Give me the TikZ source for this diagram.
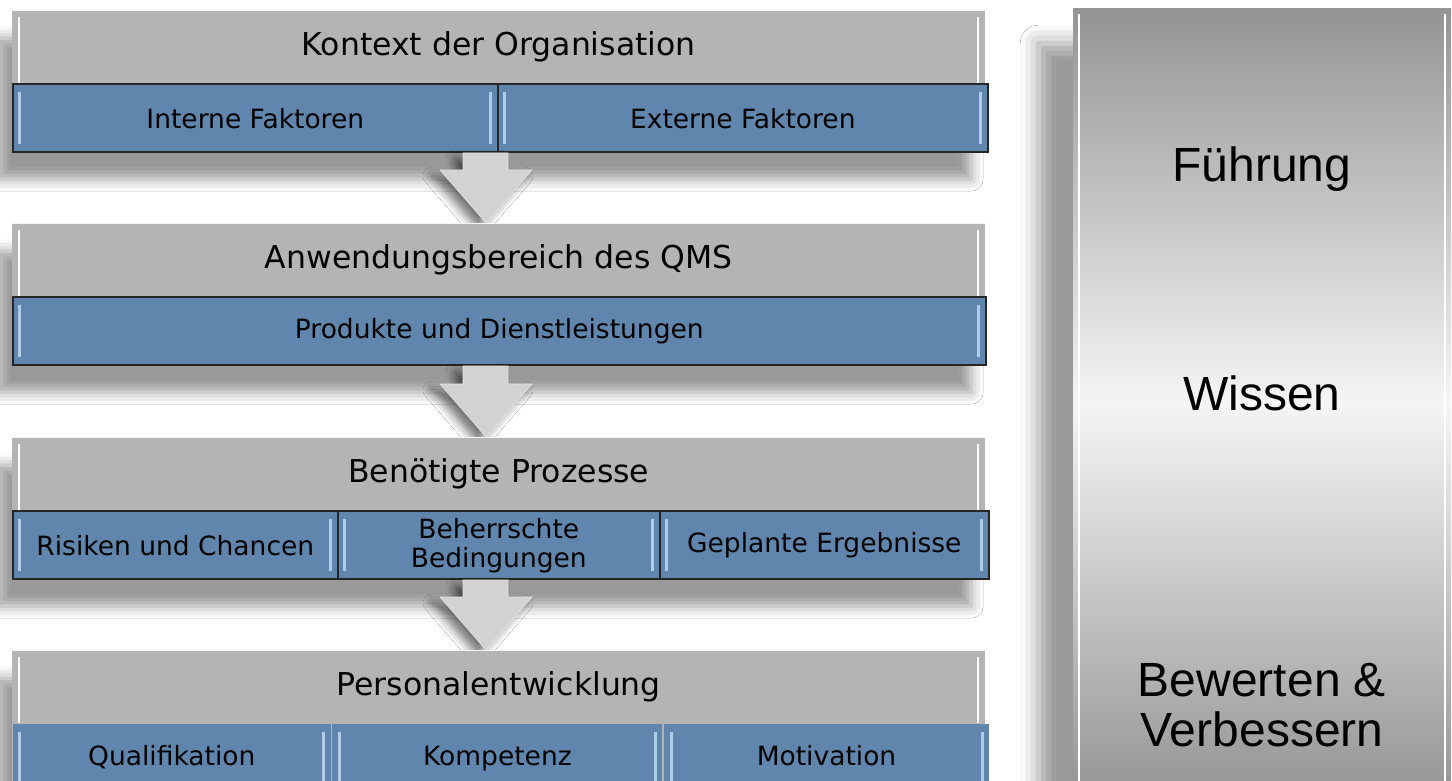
\documentclass[tikz,border=0pt]{standalone}
\usepackage{fontspec}
\setmainfont{DejaVu Sans}
\newfontfamily\sidefont{Liberation Sans}
\usetikzlibrary{positioning,calc,shadows.blur}
\definecolor{bargray}{RGB}{180,180,180}
\definecolor{rowblue}{RGB}{96,134,173}
\definecolor{bevelblue}{RGB}{176,205,232}
\definecolor{arrowgray}{RGB}{210,210,210}
\tikzset{
  grouppanel/.style={fill=bargray,minimum width=973pt,minimum height=141pt,anchor=north west,inner sep=0pt,
    blur shadow={shadow xshift=-14pt,shadow yshift=-28pt,shadow blur radius=12pt,shadow opacity=40}},
  titlebar/.style={fill=bargray,minimum width=973pt,minimum height=73pt,anchor=north west,inner sep=0pt,
    font=\fontsize{31.5}{36}\selectfont,
    path picture={\draw[white,line width=2.5pt]
      ([xshift=7pt,yshift=-7pt]path picture bounding box.north west) -- ([xshift=7pt]path picture bounding box.south west)
      ([xshift=-7pt,yshift=-7pt]path picture bounding box.north east) -- ([xshift=-7pt]path picture bounding box.south east);
      \draw[white!85!bargray,line width=2pt] (path picture bounding box.north west) -- (path picture bounding box.north east);}},
  factor/.style={fill=rowblue,draw=black!85,line width=1.6pt,minimum height=68pt,inner sep=0pt,align=center,
    font=\fontsize{26.5}{29}\selectfont,
    path picture={\draw[bevelblue,line width=3pt]
      ([xshift=7pt,yshift=-8pt]path picture bounding box.north west) -- ([xshift=7pt,yshift=8pt]path picture bounding box.south west)
      ([xshift=-7pt,yshift=-8pt]path picture bounding box.north east) -- ([xshift=-7pt,yshift=8pt]path picture bounding box.south east);}},
  lastrow/.style={factor,draw=none,text height=20pt,text depth=6pt},
  blockarrow/.style={fill=arrowgray,draw=white!90!black,line width=0.6pt,
    blur shadow={shadow xshift=-8pt,shadow yshift=-6pt,shadow blur radius=9pt,shadow opacity=55}},
  sidepanel/.style={minimum width=378pt,minimum height=790pt,anchor=north west,inner sep=0pt,
    top color=black!42,bottom color=black!42,middle color=black!4,
    blur shadow={shadow xshift=-35pt,shadow yshift=-35pt,shadow blur radius=18pt,shadow opacity=40},
    path picture={\draw[white,line width=2.5pt]
      ([xshift=6pt,yshift=-6pt]path picture bounding box.north west) -- ([xshift=6pt]path picture bounding box.south west)
      ([xshift=-6pt,yshift=-6pt]path picture bounding box.north east) -- ([xshift=-6pt]path picture bounding box.south east);}},
  sidetext/.style={font=\sidefont\fontsize{48}{50}\selectfont,align=center,inner sep=0pt}
}
\begin{document}
\begin{tikzpicture}[x=1pt,y=1pt]
\useasboundingbox (0,0) rectangle (1452,-781);
\fill[white] (0,0) rectangle (1452,-781);
% right column
\node[sidepanel] (side) at (1073,-8) {};
\node[sidetext,anchor=base] (lead) at (1262,-182) {Führung};
\node[sidetext,anchor=base] (know) at (1262,-410) {Wissen};
\node[sidetext] (improve) at (1262,-705) {Bewerten \&\\Verbessern};
% group 1
\coordinate (top1) at (12,-10);
\node[grouppanel] (g1) at (top1) {};
\node[titlebar] (t1) at (g1.north west) {Kontext der Organisation};
\node[factor,minimum width=485pt,anchor=north west] (f11) at (t1.south west) {Interne Faktoren};
\node[factor,minimum width=490pt,right=-1.6pt of f11] (f12) {Externe Faktoren};
\coordinate (top2) at (12,-223);
\path let \p1=(f11.south), \p2=(top2) in
  [blockarrow] (463,\y1) -- (508,\y1) -- (508,\y2+53pt) -- (532,\y2+53pt) -- (486,\y2)
  -- (440,\y2+53pt) -- (463,\y2+53pt) -- cycle;
% group 2
\node[grouppanel] (g2) at (top2) {};
\node[titlebar] (t2) at (g2.north west) {Anwendungsbereich des QMS};
\node[factor,minimum width=973pt,anchor=north west] (f21) at (t2.south west) {Produkte und Dienstleistungen};
\coordinate (top3) at (12,-437);
\path let \p1=(f21.south), \p2=(top3) in
  [blockarrow] (463,\y1) -- (508,\y1) -- (508,\y2+53pt) -- (532,\y2+53pt) -- (486,\y2)
  -- (440,\y2+53pt) -- (463,\y2+53pt) -- cycle;
% group 3
\node[grouppanel] (g3) at (top3) {};
\node[titlebar] (t3) at (g3.north west) {Benötigte Prozesse};
\node[factor,minimum width=325pt,anchor=north west] (f31) at (t3.south west) {Risiken und Chancen};
\node[factor,minimum width=322pt,right=-1.6pt of f31] (f32) {Beherrschte\\Bedingungen};
\node[factor,minimum width=329pt,right=-1.6pt of f32] (f33) {Geplante Ergebnisse};
\coordinate (top4) at (12,-650);
\path let \p1=(f31.south), \p2=(top4) in
  [blockarrow] (463,\y1) -- (508,\y1) -- (508,\y2+53pt) -- (532,\y2+53pt) -- (486,\y2)
  -- (440,\y2+53pt) -- (463,\y2+53pt) -- cycle;
% group 4
\node[grouppanel] (g4) at (top4) {};
\node[titlebar] (t4) at (g4.north west) {Personalentwicklung};
\node[lastrow,minimum width=318pt,anchor=north west] (f41) at (t4.south west) {Qualifikation};
\node[lastrow,minimum width=330pt,right=0pt of f41] (f42) {Kompetenz};
\node[lastrow,minimum width=325pt,right=0pt of f42] (f43) {Motivation};
\end{tikzpicture}
\end{document}
